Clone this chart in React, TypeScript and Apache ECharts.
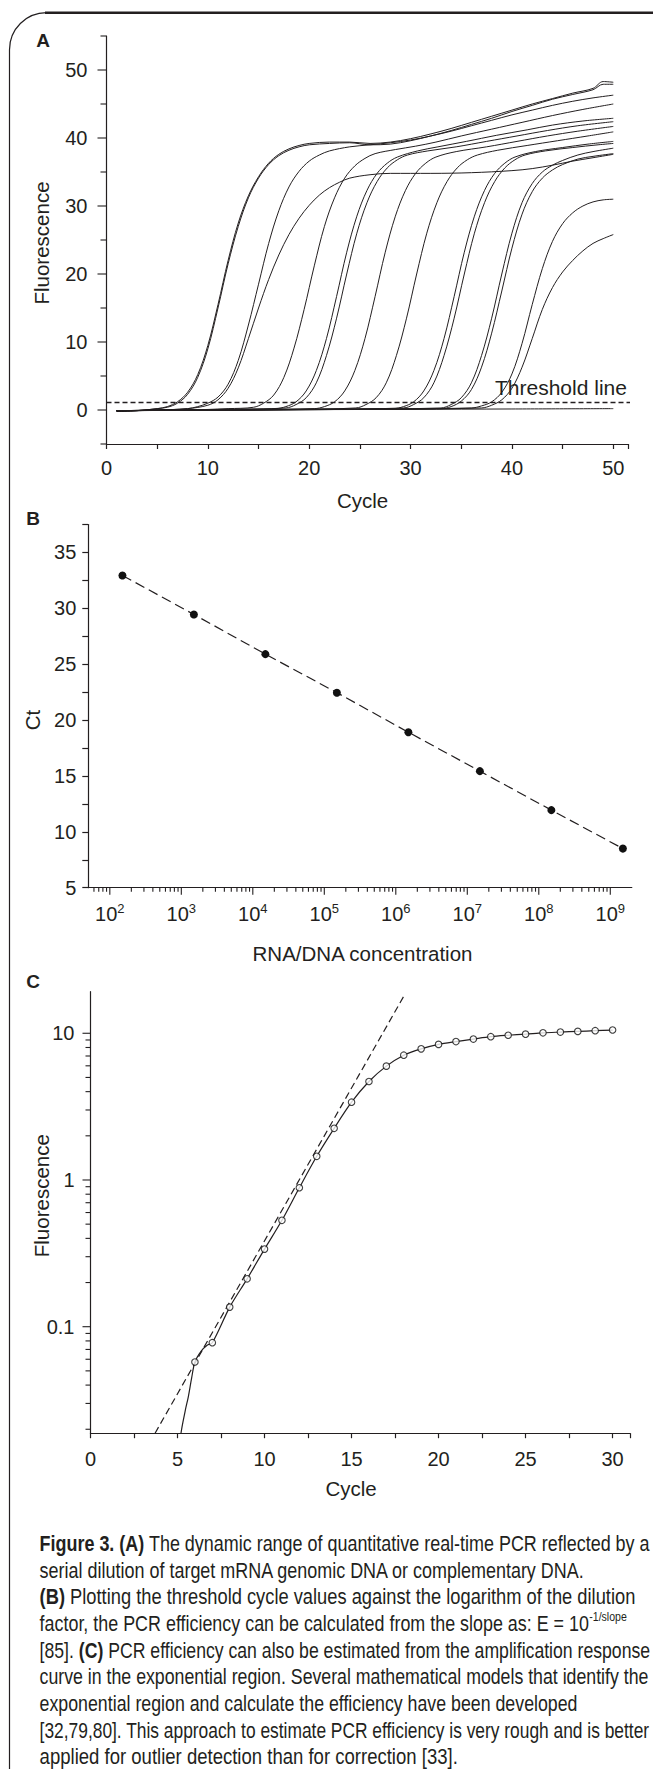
import React, { useEffect, useRef } from 'react';
import * as echarts from 'echarts';

const W = 653;
const H = 1769;
const INK = '#231f20';
const AXF = "'Liberation Sans', Arial, sans-serif";
const CAP_FAMILY = 'Liberation Sans';
const CAP_SIZE = 22;

// ---------- Panel A : amplification curves [cycle, fluorescence] ----------
const a01 = [[1,-0.2],[3,-0.1],[5,0.2],[6,0.5],[7,1.2],[8,2.6],[9,5.2],[10,9.5],[11,15.5],[12,22],[13,27.5],[14,31.5],[15,34.3],[16,36.3],[17,37.6],[18,38.4],[19,38.9],[20,39.2],[22,39.4],[24,39.4],[26,39.2],[28,39.4],[30,39.9],[32,40.6],[34,41.4],[36,42.3],[38,43.2],[40,44.1],[42,45],[44,45.8],[46,46.6],[48,47.3],[49,48.3],[50,48.2]];
const a02 = [[1,-0.2],[3,-0.1],[5,0.2],[6,0.4],[7,1.0],[8,2.3],[9,4.8],[10,9],[11,15],[12,21.5],[13,27],[14,31.2],[15,34.1],[16,36.1],[17,37.4],[18,38.2],[19,38.7],[20,39],[22,39.2],[24,39.3],[26,39],[28,39.1],[30,39.6],[32,40.3],[34,41.1],[36,42],[38,42.9],[40,43.9],[42,44.8],[44,45.7],[46,46.4],[48,47.1],[49,47.9],[50,47.9]];
const a03 = [[1,-0.1],[5,0],[8,0.2],[9,0.5],[10,1.0],[11,1.9],[12,3.8],[13,7.3],[14,12.5],[15,18.5],[16,24.5],[17,29.3],[18,32.8],[19,35.1],[20,36.6],[21,37.5],[22,38.1],[24,38.7],[26,39],[28,39.3],[30,39.7],[32,40.3],[34,41],[36,41.8],[38,42.6],[40,43.4],[42,44.1],[44,44.8],[46,45.4],[48,45.9],[50,46.3]];
const a04 = [[1,-0.1],[5,0],[8,0.2],[10,0.7],[11,1.5],[12,3.2],[13,6.2],[14,10.5],[15,15],[16,19.2],[17,22.8],[18,25.8],[19,28.2],[20,30.1],[21,31.6],[22,32.7],[23,33.5],[24,34.1],[26,34.6],[28,34.8],[32,34.8],[36,34.9],[40,35.2],[42,35.5],[44,36],[46,36.6],[48,37.1],[50,37.6]];
const a05 = [[1,-0.1],[8,0],[12,0.2],[14.5,0.4],[15.5,1.0],[16.5,2.2],[17.5,4.8],[18.5,9.1],[19.5,14.8],[20.5,21.2],[21.5,27],[22.5,31.2],[23.5,34.1],[24.5,35.9],[25.5,37],[26.5,37.7],[28.5,38.3],[30.5,38.8],[32.5,39.4],[35,40.3],[38,41.3],[41,42.3],[44,43.3],[47,44.2],[50,45]];
const a06 = [[1,-0.1],[12,0.1],[16.7,0.2],[17.7,0.5],[18.7,1.2],[19.7,2.8],[20.7,5.8],[21.7,10.5],[22.7,16.7],[23.7,23.2],[24.7,28.5],[25.7,32.3],[26.7,34.8],[27.7,36.3],[28.7,37.2],[30.7,38.1],[32.7,38.7],[35.5,39.5],[38.5,40.4],[41.5,41.2],[44,41.9],[47,42.5],[50,42.9]];
const a07 = [[1,-0.1],[12,0.1],[17.7,0.3],[18.7,0.8],[19.7,1.8],[20.7,4],[21.7,8],[22.7,13.5],[23.7,20],[24.7,26],[25.7,30.5],[26.7,33.6],[27.7,35.6],[28.7,36.8],[29.7,37.5],[31.7,38.1],[34.5,38.7],[37.5,39.5],[40.5,40.3],[43.5,41.1],[46.5,41.8],[50,42.4]];
const a08 = [[1,-0.1],[15,0.1],[20.5,0.2],[21.5,0.5],[22.5,1.2],[23.5,2.8],[24.5,5.8],[25.5,10.5],[26.5,16.7],[27.5,23.2],[28.5,28.5],[29.5,32.3],[30.5,34.8],[31.5,36.3],[32.5,37.2],[34.5,38],[37.5,38.7],[40.5,39.5],[43.5,40.3],[46.5,41],[50,41.7]];
const a09 = [[1,-0.1],[18,0.1],[24.6,0.3],[25.6,0.8],[26.6,1.8],[27.6,4],[28.6,8],[29.6,13.5],[30.6,20],[31.6,26],[32.6,30.5],[33.6,33.6],[34.6,35.6],[35.6,36.8],[36.6,37.5],[38.6,38.2],[41.5,38.9],[44.5,39.6],[47.5,40.3],[50,40.9]];
const a10 = [[1,-0.1],[20,0.1],[28.3,0.2],[29.3,0.5],[30.3,1.2],[31.3,2.8],[32.3,5.8],[33.3,10.5],[34.3,16.7],[35.3,23.2],[36.3,28.5],[37.3,32.3],[38.3,34.8],[39.3,36.3],[40.3,37.2],[42.3,38],[45,38.6],[47.5,39.1],[50,39.5]];
const a11 = [[1,-0.1],[20,0.1],[29.3,0.3],[30.3,0.8],[31.3,1.8],[32.3,4],[33.3,8],[34.3,13.5],[35.3,20],[36.3,26],[37.3,30.5],[38.3,33.6],[39.3,35.6],[40.3,36.8],[41.3,37.5],[43.3,38.1],[46,38.6],[48.5,39],[50,39.2]];
const a12 = [[1,-0.1],[22,0.1],[33,0.3],[34,0.8],[35,1.8],[36,4],[37,8],[38,13.5],[39,20],[40,26],[41,30.5],[42,33.3],[43,35],[44,36],[45,36.7],[46.5,37.5],[48,38],[50,38.5]];
const a13 = [[1,-0.1],[22,0.1],[33,0.2],[34,0.5],[35,1.3],[36,3],[37,6.3],[38,11.3],[39,17.5],[40,23.8],[41,28.8],[42,32.1],[43,34.1],[44,35.3],[45,36.1],[46.5,36.9],[48,37.3],[50,37.7]];
const a14 = [[1,-0.1],[25,0.1],[36,0.3],[37,0.6],[38,1.2],[39,2.6],[40,5.3],[41,9.8],[42,15.5],[43,20.8],[44,24.8],[45,27.4],[46,29],[47,30],[48,30.6],[49,30.9],[50,31]];
const a15 = [[1,-0.1],[25,0.1],[37,0.3],[38,0.7],[39,1.5],[40,3.2],[41,6.3],[42,10.5],[43,14.8],[44,18],[45,20.3],[46,22],[47,23.4],[48,24.5],[49,25.2],[50,25.8]];
const a16 = [[1,-0.1],[10,0],[20,0.05],[30,0.1],[40,0.15],[50,0.2]];
const curvesA = [a01,a02,a03,a04,a05,a06,a07,a08,a09,a10,a11,a12,a13,a14,a15,a16];
const thresholdA = [[0, 1.1], [52.1, 1.1]];
const labelsAx = [0, 10, 20, 30, 40, 50];
const ticksAy = [-5, 0, 5, 10, 15, 20, 25, 30, 35, 40, 45, 50, 55];
const labelsAy = [0, 10, 20, 30, 40, 50];

// ---------- Panel B : standard curve ----------
const concB = [1.5e2, 1.5e3, 1.5e4, 1.5e5, 1.5e6, 1.5e7, 1.5e8, 1.5e9];
const ctB = [32.94, 29.45, 25.9, 22.45, 18.91, 15.43, 11.94, 8.5];
const labelsBy = [5, 10, 15, 20, 25, 30, 35];

// ---------- Panel C : log amplification curve ----------
const cyclesC = [6,7,8,9,10,11,12,13,14,15,16,17,18,19,20,21,22,23,24,25,26,27,28,29,30];
const fluorC = [0.0575,0.0778,0.136,0.212,0.338,0.531,0.885,1.45,2.25,3.39,4.69,5.97,7.09,7.83,8.40,8.78,9.13,9.48,9.69,9.86,10.07,10.19,10.30,10.41,10.52];
const fitTailC = [[5.05,0.012],[5.2,0.0188],[5.45,0.027],[5.62,0.0333],[5.81,0.0446],[6,0.0575],[6.35,0.068],[6.7,0.0748]];
const tangentC = [[3.71, 0.0188], [17.98, 17.7]];
const labelsCx = [0, 5, 10, 15, 20, 25, 30];

// ---------- Caption ----------
const captionSegs: [string, string][][] = [
  [['b', 'Figure 3. (A)'], ['n', ' The dynamic range of quantitative real-time PCR reflected by a']],
  [['n', 'serial dilution of target mRNA genomic DNA or complementary DNA.']],
  [['b', '(B)'], ['n', ' Plotting the threshold cycle values against the logarithm of the dilution']],
  [['n', 'factor, the PCR efficiency can be calculated from the slope as: E = 10'], ['s', '-1/slope']],
  [['n', '[85]. '], ['b', '(C)'], ['n', ' PCR efficiency can also be estimated from the amplification response']],
  [['n', 'curve in the exponential region. Several mathematical models that identify the']],
  [['n', 'exponential region and calculate the efficiency have been developed']],
  [['n', '[32,79,80]. This approach to estimate PCR efficiency is very rough and is better']],
  [['n', 'applied for outlier detection than for correction [33].']],
];
const captionRightEdge = [650, 586, 636, 627, 650, 649, 578, 650, 458];

function buildOption() {
  const axLine = { color: INK, width: 1.2 };
  const lbl = { fontSize: 20, color: INK, fontFamily: AXF };
  const isPow10 = (v: number) => {
    const l = Math.log10(v);
    return Math.abs(l - Math.round(l)) < 1e-6;
  };

  // tick marks drawn through the axes' own scales (axis decoration)
  const aTicks = ticksAy.map((v) => [0, v, v % 10 === 0 ? 1 : 0]);
  const bTicks: number[][] = [];
  for (let n = 1; n <= 9; n++) {
    for (let k = 1; k <= 9; k++) {
      const v = k * Math.pow(10, n);
      if (v > 50 && v < 2e9) bTicks.push([v, 5, k === 1 ? 1 : 0]);
    }
  }
  const cTicks: number[][] = [];
  for (let n = -2; n <= 1; n++) {
    for (let k = 1; k <= 9; k++) {
      const v = k * Math.pow(10, n);
      if (v > 0.0188 && v < 19.2) cTicks.push([0, v, k === 1 ? 1 : 0]);
    }
  }
  const leftTicks = (majorLen: number, minorLen: number) => (p: any, api: any) => {
    const pt = api.coord([api.value(0), api.value(1)]);
    const len = api.value(2) ? majorLen : minorLen;
    return { type: 'line', shape: { x1: pt[0], y1: pt[1], x2: pt[0] - len, y2: pt[1] }, style: { stroke: INK, lineWidth: 1.1 } };
  };

  const series: any[] = [];
  curvesA.forEach((c, i) => {
    series.push({
      type: 'line', name: 'A' + (i + 1), xAxisIndex: 0, yAxisIndex: 0, data: c,
      showSymbol: false, symbol: 'none', smooth: 0.35,
      lineStyle: { color: INK, width: 1 }, silent: true,
    });
  });
  series.push({
    type: 'line', name: 'threshold', xAxisIndex: 0, yAxisIndex: 0, data: thresholdA, clip: false,
    symbol: 'none', lineStyle: { color: INK, width: 1.4, type: [5, 3] }, silent: true,
  });
  series.push({
    type: 'custom', name: 'aticks', xAxisIndex: 0, yAxisIndex: 0, data: aTicks, clip: false, silent: true,
    renderItem: leftTicks(9, 6),
  });
  series.push({
    type: 'line', name: 'Ct', xAxisIndex: 1, yAxisIndex: 1,
    data: concB.map((c, i) => [c, ctB[i]]),
    symbol: 'circle', symbolSize: 8, showSymbol: true,
    itemStyle: { color: '#111' },
    lineStyle: { color: INK, width: 1.2, type: [10, 5] }, silent: true,
  });
  series.push({
    type: 'custom', name: 'bticks', xAxisIndex: 1, yAxisIndex: 1, data: bTicks, clip: false, silent: true,
    renderItem: (p: any, api: any) => {
      const pt = api.coord([api.value(0), api.value(1)]);
      const len = api.value(2) ? 7 : 4;
      return { type: 'line', shape: { x1: pt[0], y1: pt[1], x2: pt[0], y2: pt[1] + len }, style: { stroke: INK, lineWidth: 1.1 } };
    },
  });
  series.push({
    type: 'line', name: 'tangent', xAxisIndex: 2, yAxisIndex: 2, data: tangentC,
    symbol: 'none', lineStyle: { color: INK, width: 1.2, type: [7, 4] }, silent: true,
  });
  const fitC = fitTailC.concat(cyclesC.slice(1).map((c, i) => [c, fluorC[i + 1]]));
  series.push({
    type: 'line', name: 'fit', xAxisIndex: 2, yAxisIndex: 2, data: fitC,
    symbol: 'none', smooth: 0.3, lineStyle: { color: INK, width: 1.2 }, silent: true,
  });
  series.push({
    type: 'scatter', name: 'obs', xAxisIndex: 2, yAxisIndex: 2,
    data: cyclesC.map((c, i) => [c, fluorC[i]]),
    symbol: 'circle', symbolSize: 6.5, z: 5,
    itemStyle: { color: '#fff', borderColor: '#111', borderWidth: 1.1 }, silent: true,
  });
  series.push({
    type: 'custom', name: 'cticks', xAxisIndex: 2, yAxisIndex: 2, data: cTicks, clip: false, silent: true,
    renderItem: leftTicks(8, 5),
  });

  const txt = (text: string, x: number, y: number, extra: any = {}, rot = 0) => ({
    type: 'text', x, y, rotation: rot, silent: true,
    style: {
      text, fill: INK, fontFamily: AXF, fontSize: 20.5,
      align: 'center', verticalAlign: 'middle', textAlign: 'center', textVerticalAlign: 'middle',
      ...extra,
    },
  });

  const graphic: any[] = [
    { type: 'rect', silent: true, shape: { x: 9.5, y: 12.7, width: 900, height: 1900, r: [37, 0, 0, 0] }, style: { fill: 'none', stroke: INK, lineWidth: 1.2 } },
    { type: 'line', silent: true, shape: { x1: 45, y1: 12.7, x2: 660, y2: 12.7 }, style: { stroke: INK, lineWidth: 2.4 } },
    txt('A', 43, 40, { fontWeight: 'bold', fontSize: 19 }),
    txt('B', 33, 518, { fontWeight: 'bold', fontSize: 19 }),
    txt('C', 33, 981, { fontWeight: 'bold', fontSize: 19 }),
    txt('Fluorescence', 41, 243, {}, Math.PI / 2),
    txt('Cycle', 362.5, 500.7),
    txt('Threshold line', 495, 387.7, { align: 'left', textAlign: 'left', fontSize: 21 }),
    txt('Ct', 32.5, 720, {}, Math.PI / 2),
    txt('RNA/DNA concentration', 362.5, 953.5),
    txt('Fluorescence', 41.2, 1195.7, {}, Math.PI / 2),
    txt('Cycle', 351, 1488.6),
  ];

  // caption: each line condensed horizontally to the width it has in the figure
  const ctx = document.createElement('canvas').getContext('2d') as CanvasRenderingContext2D;
  const widthOf = (seg: [string, string]) => {
    const [k, t] = seg;
    ctx.font = `${k === 'b' ? 'bold ' : ''}${k === 's' ? 13 : CAP_SIZE}px "${CAP_FAMILY}"`;
    return ctx.measureText(t).width;
  };
  const capX = 39.6;
  captionSegs.forEach((segs, i) => {
    const natural = segs.reduce((s, g) => s + widthOf(g), 0);
    const sx = (captionRightEdge[i] - capX) / natural;
    const text = segs.map(([k, t]) => `{${k}|${t}}`).join('');
    graphic.push({
      type: 'text', x: capX, y: 1543.3 + i * 26.67, scaleX: sx, silent: true,
      style: {
        text, fill: INK, fontFamily: CAP_FAMILY, fontSize: CAP_SIZE,
        align: 'left', verticalAlign: 'middle', textAlign: 'left', textVerticalAlign: 'middle',
        rich: {
          n: { fontFamily: CAP_FAMILY, fontSize: CAP_SIZE, lineHeight: 26, fill: INK },
          b: { fontFamily: CAP_FAMILY, fontSize: CAP_SIZE, lineHeight: 26, fill: INK, fontWeight: 'bold' },
          s: { fontFamily: CAP_FAMILY, fontSize: 13, lineHeight: 14, fill: INK, verticalAlign: 'top' },
        },
      },
    });
  });

  return {
    animation: false,
    backgroundColor: '#fff',
    textStyle: { fontFamily: AXF, color: INK },
    grid: [
      { left: 106.5, top: 36, width: 522, height: 408, show: false, outerBoundsMode: 'none' },
      { left: 88.3, top: 524.5, width: 543.5, height: 363.2, show: false, outerBoundsMode: 'none' },
      { left: 90.5, top: 991.7, width: 539.5, height: 441.5, show: false, outerBoundsMode: 'none' },
    ],
    xAxis: [
      {
        gridIndex: 0, type: 'value', min: 0, max: 51.5, interval: 5,
        axisLine: { show: true, onZero: false, lineStyle: axLine },
        axisTick: { show: true, length: 5, lineStyle: axLine },
        axisLabel: { ...lbl, margin: 14, formatter: (v: number) => (labelsAx.includes(v) ? String(v) : '') },
        splitLine: { show: false },
      },
      {
        gridIndex: 1, type: 'log', logBase: 10, min: 50, max: 2e9,
        axisLine: { show: true, onZero: false, lineStyle: axLine },
        axisTick: { show: false }, minorTick: { show: false },
        axisLabel: {
          margin: 14,
          formatter: (v: number) => {
            const n = Math.round(Math.log10(v));
            return isPow10(v) && n >= 2 && n <= 9 ? `{b|10}{s|${n}}` : '';
          },
          rich: {
            b: { fontSize: 20, lineHeight: 24, color: INK, fontFamily: AXF },
            s: { fontSize: 13, lineHeight: 13, color: INK, fontFamily: AXF, verticalAlign: 'top' },
          },
        },
        splitLine: { show: false }, minorSplitLine: { show: false },
      },
      {
        gridIndex: 2, type: 'value', min: 0, max: 31, interval: 2.5,
        axisLine: { show: true, onZero: false, lineStyle: axLine },
        axisTick: { show: true, length: 5, lineStyle: axLine },
        axisLabel: { ...lbl, margin: 16, formatter: (v: number) => (labelsCx.includes(v) ? String(v) : '') },
        splitLine: { show: false },
      },
    ],
    yAxis: [
      {
        gridIndex: 0, type: 'value', min: -5, max: 55, interval: 5,
        axisLine: { show: true, onZero: false, lineStyle: axLine },
        axisTick: { show: false },
        axisLabel: { ...lbl, margin: 19, formatter: (v: number) => (labelsAy.includes(v) ? String(v) : '') },
        splitLine: { show: false },
      },
      {
        gridIndex: 1, type: 'value', min: 5, max: 37.5, interval: 2.5,
        axisLine: { show: true, onZero: false, lineStyle: axLine },
        axisTick: { show: true, length: 6, lineStyle: axLine },
        axisLabel: { ...lbl, margin: 12, formatter: (v: number) => (labelsBy.includes(v) ? String(v) : '') },
        splitLine: { show: false },
      },
      {
        gridIndex: 2, type: 'log', logBase: 10, min: 0.0188, max: 19.2,
        axisLine: { show: true, onZero: false, lineStyle: axLine },
        axisTick: { show: false }, minorTick: { show: false },
        axisLabel: {
          ...lbl, margin: 16,
          formatter: (v: number) => {
            if (!isPow10(v)) return '';
            const n = Math.round(Math.log10(v));
            return n === -1 ? '0.1' : n === 0 ? '1' : n === 1 ? '10' : '';
          },
        },
        splitLine: { show: false }, minorSplitLine: { show: false },
      },
    ],
    series,
    graphic,
  };
}

export default function App() {
  const ref = useRef<HTMLDivElement>(null);
  useEffect(() => {
    document.body.style.margin = '0';
    const chart = echarts.init(ref.current as HTMLDivElement, null, { renderer: 'svg', width: W, height: H });
    chart.setOption(buildOption() as any);
    return () => chart.dispose();
  }, []);
  return <div ref={ref} style={{ width: W, height: H, background: '#fff' }} />;
}
